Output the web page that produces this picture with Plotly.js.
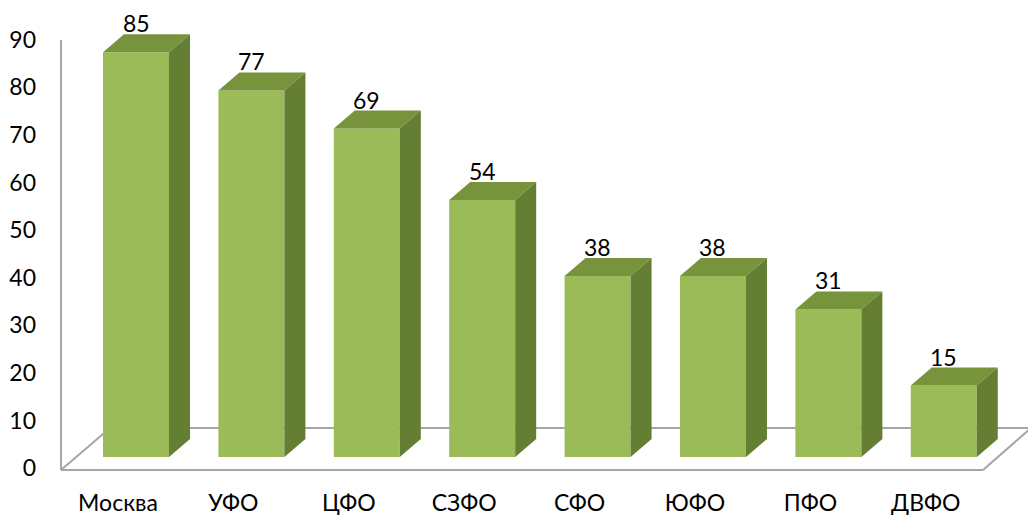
<!DOCTYPE html>
<html>
<head>
<meta charset="utf-8">
<script src="https://cdn.plot.ly/plotly-3.0.1.min.js"></script>
<style>html,body{margin:0;padding:0;background:#fff;}#chart{width:1028px;height:515px;}</style>
</head>
<body>
<div id="chart"></div>
<script>
// ---- data ----
const categories = ["Москва", "УФО", "ЦФО", "СЗФО", "СФО", "ЮФО", "ПФО", "ДВФО"];
const values = [85, 77, 69, 54, 38, 38, 31, 15];
const yTickLabels = [0, 10, 20, 30, 40, 50, 60, 70, 80, 90];

// ---- 3D look parameters (in axis units) ----
const BAR_W = 0.572;   // front face width
const DX = 0.182;      // depth offset along x
const DY = 3.78;       // depth offset along y
const LABEL_SHIFT = -0.156; // category labels sit at the front of the floor
const TICK_SHIFT = -2.35;   // value labels sit at the front of the floor

const FRONT = "#9BBB59", TOP = "#77933C", SIDE = "#647E33";
const FONT = {family: "Lato, 'Open Sans', sans-serif", size: 23, color: "#000"};

const xs = categories.map((c, i) => i);
const traces = [];

// front faces
traces.push({
  type: "bar", x: xs, y: values, width: BAR_W,
  marker: {color: FRONT, line: {width: 0}},
  hoverinfo: "skip", showlegend: false
});

// top & side faces
xs.forEach((x, i) => {
  const v = values[i];
  const l = x - BAR_W / 2, r = x + BAR_W / 2;
  traces.push({
    type: "scatter", mode: "lines", fill: "toself", fillcolor: TOP,
    x: [l, r, r + DX, l + DX, l], y: [v, v, v + DY, v + DY, v],
    line: {width: 0, color: TOP}, hoverinfo: "skip", showlegend: false
  });
  traces.push({
    type: "scatter", mode: "lines", fill: "toself", fillcolor: SIDE,
    x: [r, r + DX, r + DX, r, r], y: [0, DY, v + DY, v, 0],
    line: {width: 0, color: SIDE}, hoverinfo: "skip", showlegend: false
  });
});

// data labels
const annotations = xs.map((x, i) => ({
  x: x, y: values[i] + DY, text: String(values[i]),
  xref: "x", yref: "y", showarrow: false, yanchor: "bottom", xanchor: "center",
  yshift: -5, font: FONT
}));

// frame: wall + floor (axis units)
const FL = -0.650, FR = 7.340, BL = -0.225, BR = 7.756;
const FY = -2.73, BY = 6.09, WALL_TOP = 87.6;
const lineStyle = {color: "#A6A6A6", width: 2};
const shapes = [
  {type: "line", xref: "x", yref: "y", x0: FL, y0: FY, x1: FL, y1: WALL_TOP, line: lineStyle, layer: "below"},
  {type: "line", xref: "x", yref: "y", x0: FL, y0: FY, x1: FR, y1: FY, line: lineStyle, layer: "below"},
  {type: "line", xref: "x", yref: "y", x0: FL, y0: FY, x1: BL, y1: BY, line: lineStyle, layer: "below"},
  {type: "line", xref: "x", yref: "y", x0: BL, y0: BY, x1: BR, y1: BY, line: lineStyle, layer: "below"},
  {type: "line", xref: "x", yref: "y", x0: FR, y0: FY, x1: BR, y1: BY, line: lineStyle, layer: "below"}
];

const layout = {
  width: 1028, height: 515,
  margin: {l: 40, r: 0, t: 0, b: 40},
  paper_bgcolor: "#fff", plot_bgcolor: "#fff",
  showlegend: false,
  xaxis: {
    range: [-0.832, 7.730], showgrid: false, zeroline: false, showline: false,
    tickmode: "array", tickvals: xs.map(x => x + LABEL_SHIFT), ticktext: categories,
    tickfont: FONT, ticks: "", ticklabelstandoff: 12, fixedrange: true
  },
  yaxis: {
    range: [-3.78, 96.0], showgrid: false, zeroline: false, showline: false,
    tickmode: "array", tickvals: yTickLabels.map(v => v + TICK_SHIFT),
    ticktext: yTickLabels.map(String), tickfont: FONT, ticks: "", ticklabelstandoff: 3,
    fixedrange: true
  },
  shapes: shapes,
  annotations: annotations
};

Plotly.newPlot("chart", traces, layout, {displayModeBar: false, staticPlot: true});
</script>
</body>
</html>
